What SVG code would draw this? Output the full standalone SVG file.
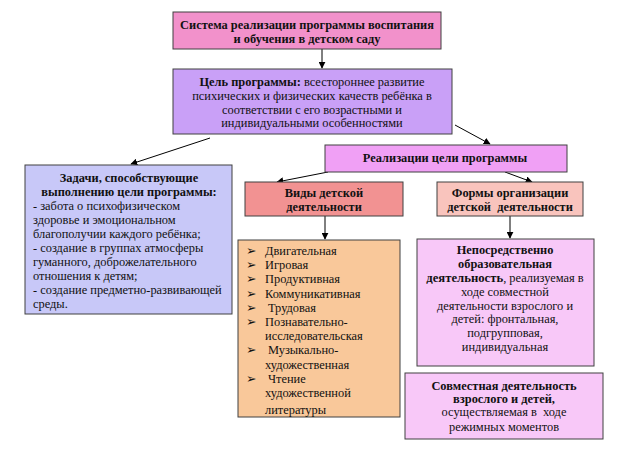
<svg xmlns="http://www.w3.org/2000/svg" width="621" height="451" viewBox="0 0 621 451">
<defs>
<marker id="ah" viewBox="0 0 10 10" refX="9" refY="5" markerWidth="7" markerHeight="7" orient="auto" markerUnits="userSpaceOnUse">
<path d="M0,0 L10,5 L0,10 z" fill="#000"/>
</marker>
<clipPath id="c7"><rect x="238" y="240" width="162" height="177"/></clipPath>
</defs>
<style>
.box{stroke:#404040;stroke-width:1}
.t{font-family:"Liberation Serif","Times New Roman",serif;font-size:12.4px;fill:#111}
.b{font-weight:bold}
.c{text-anchor:middle}
.bl{font-family:"DejaVu Sans",sans-serif;font-size:12.5px;font-weight:bold;fill:#111}
.ln{stroke:#000;stroke-width:1;fill:none;marker-end:url(#ah)}
</style>
<rect width="621" height="451" fill="#fff"/>

<g id="connectors">
<line class="ln" x1="322" y1="49" x2="322" y2="68"/>
<line class="ln" x1="210" y1="138" x2="131" y2="164"/>
<line class="ln" x1="455" y1="125" x2="490" y2="144"/>
<line class="ln" x1="328" y1="172" x2="277" y2="182"/>
<line class="ln" x1="505" y1="172" x2="532" y2="182"/>
<line class="ln" x1="325" y1="216" x2="325" y2="239"/>
<line class="ln" x1="510" y1="216" x2="510" y2="238"/>
</g>

<g id="n1">
<rect class="box" x="173" y="12" width="268" height="37" fill="#f291cb"/>
<text class="t b c" x="307" y="29" font-size="13.4">Система реализации программы воспитания</text>
<text class="t b c" x="307" y="43" font-size="13.4">и обучения в детском саду</text>
</g>

<g id="n2">
<rect class="box" x="173" y="69" width="279" height="65" fill="#c9a0f7"/>
<text class="t c" x="312" y="86"><tspan class="b">Цель программы:</tspan> всестороннее развитие</text>
<text class="t c" x="312" y="100">психических и физических качеств ребёнка в</text>
<text class="t c" x="312" y="114">соответствии с его возрастными и</text>
<text class="t c" x="312" y="127">индивидуальными особенностями</text>
</g>

<g id="n3">
<rect class="box" x="25" y="165" width="207" height="149" fill="#c8c8f8"/>
<text class="t b c" x="129" y="182" font-size="12.8">Задачи, способствующие</text>
<text class="t b c" x="129" y="196" font-size="12.8">выполнению цели программы:</text>
<text class="t" x="33" y="210">- забота о психофизическом</text>
<text class="t" x="33" y="224">здоровье и эмоциональном</text>
<text class="t" x="33" y="238">благополучии каждого ребёнка;</text>
<text class="t" x="33" y="252">- создание в группах атмосферы</text>
<text class="t" x="33" y="266">гуманного, доброжелательного</text>
<text class="t" x="33" y="280">отношения к детям;</text>
<text class="t" x="33" y="294">- создание предметно-развивающей</text>
<text class="t" x="33" y="308">среды.</text>
</g>

<g id="n4">
<rect class="box" x="325" y="145" width="242" height="27" fill="#f0a0f5"/>
<text class="t b c" x="445" y="162" font-size="14.4">Реализации цели программы</text>
</g>

<g id="n5">
<rect class="box" x="245" y="182" width="158" height="34" fill="#f29292"/>
<text class="t b c" x="324" y="197" font-size="14">Виды детской</text>
<text class="t b c" x="324" y="211" font-size="14">деятельности</text>
</g>

<g id="n6">
<rect class="box" x="437" y="182" width="146" height="34" fill="#f9c4bd"/>
<text class="t b c" x="510" y="197" font-size="13.6">Формы организации</text>
<text class="t b c" x="510" y="211" font-size="13.6" xml:space="preserve">детской  деятельности</text>
</g>

<g id="n7">
<rect class="box" x="238" y="240" width="162" height="177" fill="#f9c89a"/>
<g clip-path="url(#c7)">
<text class="bl" x="246" y="255">➢</text>
<text class="bl" x="246" y="269">➢</text>
<text class="bl" x="246" y="283">➢</text>
<text class="bl" x="246" y="298">➢</text>
<text class="bl" x="246" y="312">➢</text>
<text class="bl" x="246" y="326">➢</text>
<text class="bl" x="246" y="354">➢</text>
<text class="bl" x="246" y="383">➢</text>
<text class="t" x="265" y="255">Двигательная</text>
<text class="t" x="265" y="269">Игровая</text>
<text class="t" x="265" y="283">Продуктивная</text>
<text class="t" x="265" y="298">Коммуникативная</text>
<text class="t" x="268" y="312">Трудовая</text>
<text class="t" x="265" y="326">Познавательно-</text>
<text class="t" x="265" y="340">исследовательская</text>
<text class="t" x="268" y="354">Музыкально-</text>
<text class="t" x="265" y="369">художественная</text>
<text class="t" x="268" y="383">Чтение</text>
<text class="t" x="265" y="397">художественной</text>
<text class="t" x="265" y="414">литературы</text>
</g>
</g>

<g id="n8">
<rect class="box" x="417" y="239" width="177" height="127" fill="#f8c8f8"/>
<text class="t b c" x="505" y="254" font-size="12.7">Непосредственно</text>
<text class="t b c" x="505" y="268" font-size="12.7">образовательная</text>
<text class="t c" x="505" y="282"><tspan class="b" font-size="12.7">деятельность</tspan>, реализуемая в</text>
<text class="t c" x="505" y="296">ходе совместной</text>
<text class="t c" x="505" y="310">деятельности взрослого и</text>
<text class="t c" x="505" y="323">детей: фронтальная,</text>
<text class="t c" x="505" y="337">подгрупповая,</text>
<text class="t c" x="505" y="351">индивидуальная</text>
</g>

<g id="n9">
<rect class="box" x="405" y="373" width="198" height="66" fill="#f8c8f8"/>
<text class="t b c" x="504" y="390">Совместная деятельность</text>
<text class="t b c" x="504" y="403">взрослого и детей,</text>
<text class="t c" x="504" y="416" xml:space="preserve">осуществляемая в  ходе</text>
<text class="t c" x="504" y="431">режимных моментов</text>
</g>
</svg>
